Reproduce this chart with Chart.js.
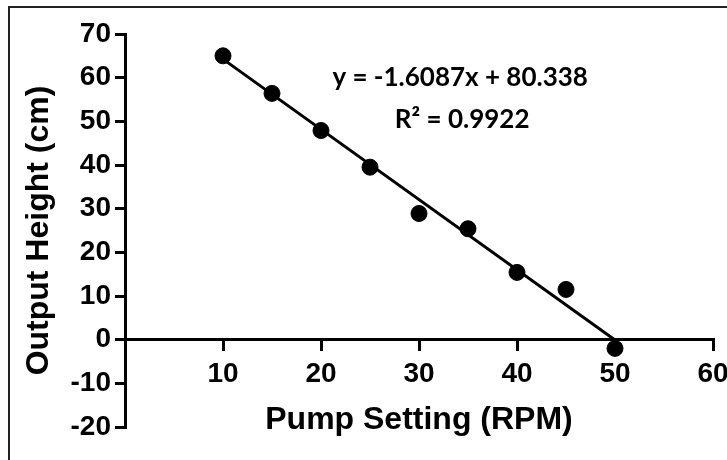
<!DOCTYPE html>
<html><head><meta charset="utf-8">
<script src="https://cdn.jsdelivr.net/npm/chart.js@4.4.0/dist/chart.umd.min.js"></script>
<style>html,body{margin:0;padding:0;background:#fff;}#wrap{position:relative;width:727px;height:460px;}</style>
</head><body><div id="wrap"><canvas id="c" width="727" height="460"></canvas></div>
<script>
// ---- data ----
const pumpRPM = [10, 15, 20, 25, 30, 35, 40, 45, 50];
const outputHeight = [65.0, 56.4, 47.9, 39.5, 28.9, 25.4, 15.4, 11.5, -2.0];
const trendSlope = -1.6087;
const trendIntercept = 80.338;
const trendRange = [10, 50];
const xTicks = [10, 20, 30, 40, 50, 60];
const yTicks = [-20, -10, 0, 10, 20, 30, 40, 50, 60, 70];
const equationText = 'y = -1.6087x + 80.338';
const r2Text = 'R\u00B2 = 0.9922';
const equationAt = {x: 34.2, y: 60.0};
const r2At = {x: 34.4, y: 50.3};

const points = pumpRPM.map((x, i) => ({x: x, y: outputHeight[i]}));
const trend = trendRange.map(x => ({x: x, y: trendSlope * x + trendIntercept}));

const AXIS_FONT = "'Liberation Sans', Arial, sans-serif";

const framePlugin = {
  id: 'frame',
  beforeDraw(chart) {
    const ctx = chart.ctx;
    ctx.save();
    ctx.fillStyle = '#fff';
    ctx.fillRect(0, 0, chart.width, chart.height);
    ctx.strokeStyle = '#222';
    ctx.lineWidth = 2;
    ctx.strokeRect(9, 7, 900, 900);
    ctx.restore();
  }
};

const textPlugin = {
  id: 'eqText',
  afterDraw(chart) {
    const ctx = chart.ctx;
    const xs = chart.scales.x, ys = chart.scales.y;
    ctx.save();
    ctx.fillStyle = '#000';
    ctx.textAlign = 'center';
    ctx.textBaseline = 'middle';
    ctx.font = "bold 26px Lato, 'Open Sans', sans-serif";
    ctx.fillText(equationText, xs.getPixelForValue(equationAt.x), ys.getPixelForValue(equationAt.y));
    ctx.fillText(r2Text, xs.getPixelForValue(r2At.x), ys.getPixelForValue(r2At.y));
    ctx.restore();
  }
};

new Chart(document.getElementById('c'), {
  type: 'scatter',
  data: {
    datasets: [
      {
        label: 'Trend',
        data: trend,
        showLine: true,
        borderColor: '#000',
        borderWidth: 3,
        pointRadius: 0,
        order: 2
      },
      {
        label: 'Output Height',
        data: points,
        backgroundColor: '#000',
        borderColor: '#000',
        pointRadius: 8,
        pointHoverRadius: 8,
        order: 1
      }
    ]
  },
  options: {
    responsive: false,
    animation: false,
    events: [],
    layout: {padding: {left: 0, top: 34, right: 14, bottom: 33}},
    plugins: {legend: {display: false}, tooltip: {enabled: false}},
    scales: {
      x: {
        type: 'linear',
        position: {y: 0},
        min: 0, max: 60,
        afterBuildTicks(s) { s.ticks = xTicks.map(v => ({value: v})); },
        afterFit(s) { s.paddingLeft = 0; s.paddingRight = 0; },
        grid: {drawOnChartArea: false, drawTicks: true, tickLength: 10, color: '#000', lineWidth: 3},
        border: {display: true, color: '#000', width: 3},
        ticks: {color: '#000', padding: 8, maxRotation: 0, font: {family: AXIS_FONT, size: 28, weight: 'bold'}},
        title: {display: true, text: 'Pump Setting (RPM)', color: '#000', padding: {top: 2, bottom: 0},
                font: {family: AXIS_FONT, size: 32, weight: 'bold'}}
      },
      y: {
        type: 'linear',
        position: 'left',
        min: -20, max: 70,
        afterBuildTicks(s) { s.ticks = yTicks.map(v => ({value: v})); },
        afterFit(s) { s.width = 125; },
        grid: {drawOnChartArea: false, drawTicks: true, tickLength: 10, color: '#000', lineWidth: 3},
        border: {display: true, color: '#000', width: 3},
        ticks: {color: '#000', padding: 4, font: {family: AXIS_FONT, size: 28, weight: 'bold'}},
        title: {display: true, text: 'Output Height (cm)', color: '#000', padding: {top: 20, bottom: 0},
                font: {family: AXIS_FONT, size: 32, weight: 'bold'}}
      }
    }
  },
  plugins: [framePlugin, textPlugin]
});
</script></body></html>
